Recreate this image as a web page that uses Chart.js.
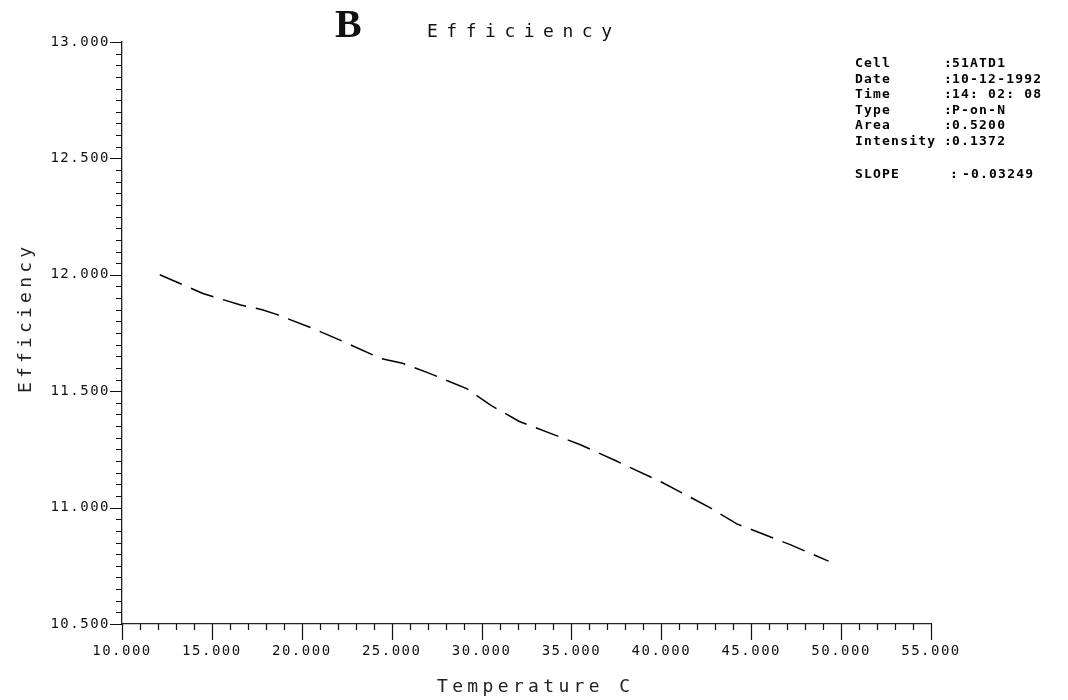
<!DOCTYPE html>
<html>
<head>
<meta charset="utf-8">
<title>Efficiency</title>
<script src="https://cdn.jsdelivr.net/npm/chart.js@4.4.1/dist/chart.umd.min.js"></script>
<style>
  html, body { margin: 0; padding: 0; background: #fff; }
  #wrap { position: relative; width: 1068px; height: 700px; }
</style>
</head>
<body>
<div id="wrap"><canvas id="effChart"></canvas></div>
<script>
// values
const temps = [12.1, 14.5, 16.6, 17.8, 18.6, 20.6, 22.4, 24.4, 25.6, 27.0, 29.2, 30.5, 32.1, 33.8, 35.5, 37.5, 40.0, 42.7, 44.2, 47.2, 49.3];
const efficiency = [12.00, 11.92, 11.87, 11.85, 11.83, 11.77, 11.71, 11.64, 11.62, 11.58, 11.51, 11.44, 11.37, 11.32, 11.27, 11.20, 11.11, 11.00, 10.93, 10.84, 10.77];

const xTickValues = [10, 15, 20, 25, 30, 35, 40, 45, 50, 55];
const yTickValues = [10.5, 11.0, 11.5, 12.0, 12.5, 13.0];

const infoLabels = ['Cell', 'Date', 'Time', 'Type', 'Area', 'Intensity'];
const infoValues = ['51ATD1', '10-12-1992', '14: 02: 08', 'P-on-N', '0.5200', '0.1372'];
const slopeLabel = 'SLOPE';
const slopeValue = '-0.03249';

const MONO = '"DejaVu Sans Mono", "Liberation Mono", monospace';
const INK = '#111';

// draw text stretched to a given width with letter spacing
function spaced(ctx, text, x, y, width, align) {
  ctx.letterSpacing = '0px';
  const w = ctx.measureText(text).width;
  const s = Math.max(0, (width - w) / (text.length - 1));
  ctx.letterSpacing = s + 'px';
  ctx.textAlign = 'left';
  const start = align === 'center' ? x - width / 2 : x;
  ctx.fillText(text, start, y);
}

const plotterStyle = {
  id: 'plotterStyle',
  beforeDraw(chart) {
    chart.ctx.letterSpacing = '1.5px';
  },
  afterDraw(chart) {
    const ctx = chart.ctx;
    const xs = chart.scales.x;
    const ys = chart.scales.y;
    const area = chart.chartArea;

    ctx.save();
    ctx.strokeStyle = INK;
    ctx.lineWidth = 1.2;
    ctx.beginPath();
    // minor + major ticks on the x axis
    for (let i = 0; i <= xs.max - xs.min; i++) {
      const v = xs.min + i;
      const px = Math.round(xs.getPixelForValue(v)) + 0.5;
      const major = v % 5 === 0;
      ctx.moveTo(px, area.bottom);
      ctx.lineTo(px, area.bottom + (major ? 16 : 6));
    }
    // minor + major ticks on the y axis
    const ySteps = Math.round((ys.max - ys.min) / 0.05);
    for (let i = 0; i <= ySteps; i++) {
      const v = ys.min + i * 0.05;
      const py = Math.round(ys.getPixelForValue(v)) + 0.5;
      const major = i % 10 === 0;
      ctx.moveTo(area.left, py);
      ctx.lineTo(area.left - (major ? 12 : 6), py);
    }
    ctx.stroke();

    ctx.fillStyle = INK;
    ctx.textBaseline = 'alphabetic';

    // big B and title
    ctx.letterSpacing = '0px';
    ctx.font = 'bold 40px "Liberation Serif", serif';
    ctx.textAlign = 'left';
    ctx.fillText('B', 335, 37);
    ctx.font = '18px ' + MONO;
    spaced(ctx, 'Efficiency', 427, 37, 185, 'left');

    // axis titles
    ctx.fillStyle = '#222';
    ctx.font = '18px ' + MONO;
    spaced(ctx, 'Temperature C', (area.left + area.right) / 2 + 7, 692, 193, 'center');
    ctx.save();
    ctx.translate(31, 320);
    ctx.rotate(-Math.PI / 2);
    spaced(ctx, 'Efficiency', 0, 0, 146, 'center');
    ctx.restore();

    // info block
    ctx.fillStyle = '#000';
    ctx.font = 'bold 13px ' + MONO;
    ctx.letterSpacing = '1.2px';
    ctx.textAlign = 'left';
    infoLabels.forEach((lab, i) => {
      const by = 67 + i * 15.5;
      ctx.fillText(lab, 855, by);
      ctx.fillText(':', 944, by);
      ctx.fillText(infoValues[i], 952, by);
    });
    ctx.fillText(slopeLabel, 855, 178);
    ctx.fillText(':', 950, 178);
    ctx.fillText(slopeValue, 962, 178);

    ctx.restore();
  }
};

const ctx = document.getElementById('effChart').getContext('2d');

const effChart = new Chart(ctx, {
  type: 'line',
  data: {
    datasets: [{
      label: 'Efficiency',
      data: temps.map((t, i) => ({ x: t, y: efficiency[i] })),
      borderColor: '#000',
      borderWidth: 1.5,
      borderDash: [24, 10],
      pointRadius: 0,
      tension: 0,
      fill: false
    }]
  },
  options: {
    responsive: true,
    maintainAspectRatio: false,
    animation: false,
    layout: {
      padding: { top: 42, right: 137, bottom: 0, left: 0 }
    },
    plugins: {
      legend: { display: false },
      tooltip: { enabled: false },
      title: { display: false }
    },
    scales: {
      x: {
        type: 'linear',
        min: 10,
        max: 55,
        afterBuildTicks: scale => { scale.ticks = xTickValues.map(v => ({ value: v })); },
        afterFit: scale => { scale.height = 76; },
        ticks: {
          callback: v => v.toFixed(3),
          font: { family: MONO, size: 14 },
          color: INK,
          padding: 19,
          maxRotation: 0,
          autoSkip: false
        },
        grid: { display: false, drawTicks: false },
        border: { display: true, color: '#222', width: 1.3, dash: [6, 2] }
      },
      y: {
        type: 'linear',
        min: 10.5,
        max: 13,
        afterBuildTicks: scale => { scale.ticks = yTickValues.map(v => ({ value: v })); },
        afterFit: scale => { scale.width = 122; },
        ticks: {
          callback: v => v.toFixed(3),
          font: { family: MONO, size: 14 },
          color: INK,
          padding: 12
        },
        grid: { display: false, drawTicks: false },
        border: { display: true, color: '#222', width: 1.3, dash: [6, 2] }
      }
    }
  },
  plugins: [plotterStyle]
});
</script>
</body>
</html>
